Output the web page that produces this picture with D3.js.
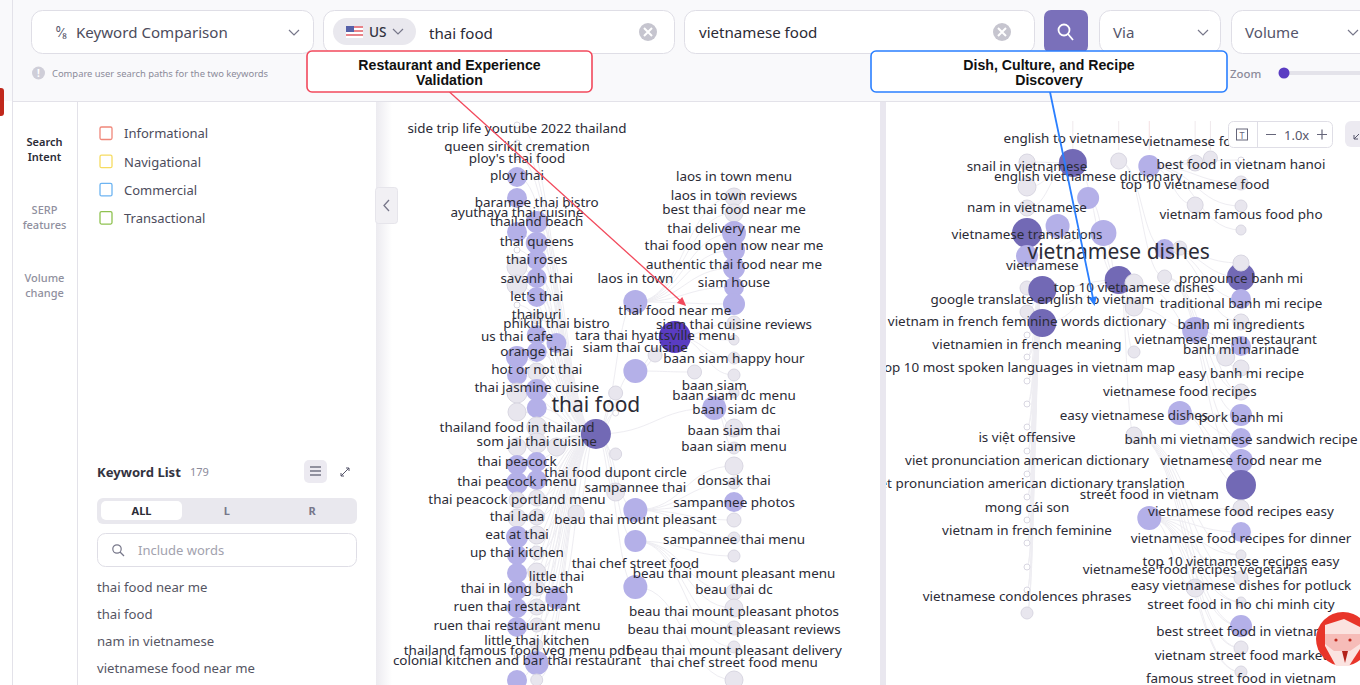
<!DOCTYPE html>
<head>
  <meta charset="utf-8">
  <script src="https://d3js.org/d3.v7.min.js"></script>
  <style>
    body { margin:0; overflow:hidden; background:#fff; }
    svg { display:block; font-family:"Noto Sans", sans-serif; }
    .link { fill:none; stroke:#eeedf2; stroke-width:1px; }
    .kw { fill:#2b2b36; font-size:13.45px; text-anchor:middle; dominant-baseline:central; }
    .big { font-size:21px; }
    .ui { fill:#4c4c5c; font-size:15.1px; dominant-baseline:central; }
    .box { fill:#fff; stroke:#dfdee6; }
    .note { fill:#111; font-family:"Liberation Sans", sans-serif; font-weight:bold; font-size:14.15px; text-anchor:middle; }
  </style>
</head>

<body>
  <svg id="page" width="1360" height="685"></svg>
  <script>

  // ---- left graph (thai food), one inner array per graph column
  var leftRows = [
    [125,143,157,177,198,232,250,267,285,305,320,357,375,393,412,447,465,483,500,518,537,555,573,590,608,627,655,680],
    [222,243,260,278,297,318,335,352,372,390,408,427,443,462,480,498,517,535,553,572,588,607,625,645,663,680],
    [343,447,598],
    [513],
    [434],
    [393,413,454,492],
    [302,371,510,541,587],
    [355],
    [337],
    [372],
    [408],
    [197,213,233,250,268,287,304,323,340,358,375,393,428,448,466,483,502,520,538,556,592,608,628,647,680]
  ];
  var leftVolumes = [
    [9,9,9,100,100,100,9,100,100,9,9,121,100,100,81,81,100,121,64,81,121,100,100,100,100,100,9,100],
    [121,121,100,100,100,36,100,100,81,121,100,100,100,100,100,64,64,81,49,81,64,64,49,36,144,36],
    [100,81,121],
    [64],
    [225],
    [49,9,36,81],
    [144,144,144,121,144],
    [49],
    [256],
    [49],
    [144],
    [81,81,144,121,121,100,121,49,25,36,36,25,81,36,81,36,100,49,36,36,64,81,49,36,81]
  ];
  var leftTiers = [
    [0,0,0,1,1,1,0,0,0,0,0,1,1,0,0,0,1,1,0,0,1,1,1,1,1,1,0,1],
    [1,1,1,1,1,0,1,1,0,1,1,0,0,1,1,0,0,0,0,0,0,0,0,0,1,0],
    [1,0,1],
    [0],
    [2],
    [0,0,0,0],
    [1,1,1,1,1],
    [0],
    [3],
    [0],
    [1],
    [0,0,1,1,1,1,1,0,0,0,0,0,0,0,0,0,1,0,0,0,0,0,0,0,0]
  ];
  var leftLabels = ["side trip life youtube 2022 thailand","queen sirikit cremation","ploy's thai food","ploy thai","baramee thai bistro","ayuthaya thai cuisine","thailand beach","thai queens","thai roses","savanh thai","let's thai","thaiburi","phikul thai bistro","us thai cafe","tara thai hyattsville menu","siam thai cuisine","orange thai","hot or not thai","thai jasmine cuisine","laos in town","thai food near me","siam thai cuisine reviews","baan siam happy hour","laos in town menu","laos in town reviews","best thai food near me","thai delivery near me","thai food open now near me","authentic thai food near me","siam house","baan siam","baan siam dc menu","baan siam dc","baan siam thai","baan siam menu","thailand food in thailand","som jai thai cuisine","thai peacock","thai food dupont circle","thai peacock menu","sampannee thai","donsak thai","sampannee photos","thai peacock portland menu","thai lada","beau thai mount pleasant","eat at thai","sampannee thai menu","up thai kitchen","thai chef street food","beau thai mount pleasant menu","little thai","thai in long beach","beau thai dc","ruen thai restaurant","beau thai mount pleasant photos","ruen thai restaurant menu","beau thai mount pleasant reviews","little thai kitchen","thailand famous food veg menu pdf","beau thai mount pleasant delivery","colonial kitchen and bar thai restaurant","thai chef street food menu"];
  var leftLabelColumns = [0,0,0,0,1,0,1,1,1,1,1,1,2,0,7,6,1,1,1,6,8,11,11,11,11,11,11,11,11,11,10,11,11,11,11,0,1,0,5,0,6,11,11,0,0,6,0,11,0,6,11,2,0,11,0,11,0,11,1,0,11,0,11];
  var leftLabelRows = [127.5,145.5,157.5,174.5,201.5,211.5,220.5,240.5,258.5,277.5,295.5,313.5,322.5,335.5,334.5,346.5,350.5,368.5,386.5,277.5,309.5,323.5,357.5,175.5,194.5,208.5,227.5,244.5,263.5,281.5,384.5,394.5,408.5,429.5,445.5,426.5,440.5,460.5,471.5,480.5,486.5,479.5,501.5,498.5,515.5,518.5,533.5,538.5,551.5,562.5,572.5,575.5,587.5,588.5,605.5,610.5,624.5,628.5,639.5,649.5,649.5,659.5,661.5];
  // hub column, hub row, target column, first row, last row
  var leftEdgeGroups = [
    [4,434,0,125,680],[4,434,1,222,680],[4,434,2,343,598],[4,434,3,513,513],[4,434,5,393,492],[4,434,6,302,587],[4,434,10,408,408],
    [6,302,11,197,304],[6,371,7,355,355],[6,371,8,337,337],[6,371,9,372,372],[8,337,11,323,375],[10,408,11,393,448],
    [6,510,11,466,538],[6,541,11,556,647],[6,587,11,680,680]
  ];

  // ---- right graph (vietnamese food)
  var rightRows = [
    [162,187,208,233,256,288,312,335,357,381,404,427,451,474,497,520,543,567,590,613],
    [290,323],
    [226],
    [163],
    [198],
    [233],
    [161,280],
    [283,307,352,435],
    [166,518],
    [249,277],
    [248,413],
    [163,205,330,588],
    [158],
    [357],
    [160,183,206,230,277,263,299,322,346,368,392,415,438,461,485,508,532,555,578,602,626,648,672]
  ];
  var rightVolumes = [
    [64,81,64,225,121,49,49,9,9,9,9,9,9,9,9,9,9,9,9,36],
    [196,196],
    [144],
    [196],
    [121],
    [169],
    [64,196],
    [81,81,36,64],
    [121,144],
    [100,49],
    [49,144],
    [64,64,169,81],
    [49],
    [81],
    [9,49,36,25,196,64,100,64,100,64,64,121,100,144,225,64,100,25,49,25,121,49,36]
  ];
  var rightTiers = [
    [0,0,0,2,1,0,0,0,0,0,0,0,0,0,0,0,0,0,0,0],
    [2,2],
    [1],
    [2],
    [1],
    [1],
    [0,2],
    [0,0,0,0],
    [1,1],
    [1,0],
    [0,1],
    [0,0,1,0],
    [0],
    [0],
    [0,0,0,0,2,0,1,0,1,0,0,1,1,1,2,0,1,0,0,0,1,0,0]
  ];
  var rightLabels = ["english to vietnamese","vietnamese food","snail in vietnamese","english vietnamese dictionary","best food in vietnam hanoi","top 10 vietnamese food","nam in vietnamese","vietnam famous food pho","vietnamese translations","vietnamese","pronounce banh mi","top 10 vietnamese dishes","google translate english to vietnam","traditional banh mi recipe","vietnam in french feminine words dictionary","banh mi ingredients","vietnamese menu restaurant","banh mi marinade","vietnamien in french meaning","top 10 most spoken languages in vietnam map","easy banh mi recipe","vietnamese food recipes","easy vietnamese dishes","pork banh mi","is việt offensive","banh mi vietnamese sandwich recipe","viet pronunciation american dictionary","vietnamese food near me","viet pronunciation american dictionary translation","street food in vietnam","mong cái son","vietnamese food recipes easy","vietnam in french feminine","vietnamese food recipes for dinner","top 10 vietnamese recipes easy","vietnamese food recipes vegetarian","easy vietnamese dishes for potluck","street food in ho chi minh city","vietnamese condolences phrases","best street food in vietnam","vietnam street food market","famous street food in vietnam"];
  var rightLabelColumns = [3,11,0,4,14,11,0,14,0,1,14,7,1,14,0,14,13,14,0,0,14,10,7,14,0,14,0,14,0,8,0,14,0,14,14,11,14,14,0,14,14,14];
  var rightLabelRows = [137.5,140.5,165.5,175.5,163.5,183.5,206.5,213.5,233.5,264.5,277.5,286.5,298.5,302.5,320.5,323.5,338.5,348.5,343.5,366.5,372.5,390.5,414.5,416.5,436.5,438.5,459.5,459.5,482.5,493.5,506.5,510.5,529.5,537.5,560.5,568.5,584.5,603.5,595.5,630.5,654.5,677.5];
  var rightEdgeGroups = [
    [3,163,0,162,208],[5,233,0,233,256],[6,280,1,290,323],[6,280,3,163,163],[6,280,4,198,198],[6,280,5,233,233],
    [1,323,0,335,613],[1,290,0,288,613],[6,280,7,283,435],[8,166,14,160,230],[8,166,12,158,158],[8,166,11,163,205],[9,249,14,263,322],
    [11,330,14,346,392],[10,413,14,415,485],[6,161,9,249,277],[7,283,13,357,357],[7,307,11,330,330],
    [8,518,14,508,672],[8,518,11,588,588],[7,435,14,555,672],[9,277,14,392,461]
  ];
  // links that run up past the top of the right panel
  var rightTopColumns = [3,6,8,11,12];

  var tierColors = ["#e8e6ee", "#b4b0e8", "#7269b5", "#5a3cc2"];
  var legendNames = ["Informational", "Navigational", "Commercial", "Transactional"];
  var legendColors = ["#f0877a", "#f6dc62", "#6db4f2", "#8fc250"];
  var sideNames = [["Search","Intent"], ["SERP","features"], ["Volume","change"]];
  var listWords = ["thai food near me", "thai food", "nam in vietnamese", "vietnamese food near me"];
  var tabNames = ["ALL", "L", "R"];

  var svg = d3.select("#page");
  var defs = svg.append("defs");

  var yScale = d3.scaleLinear().domain([100, 685]).range([100, 685]);
  var rScale = d3.scaleSqrt().domain([0, 256]).range([0, 16]);
  var leftX = d3.scaleLinear().domain([0, 11]).range([517, 734]);
  var rightX = d3.scaleLinear().domain([0, 14]).range([1027, 1241]);

  // page chrome
  svg.append("rect").attr("width", 1360).attr("height", 101).attr("fill", "#f9f9fb");
  svg.append("line").attr("x1", 13).attr("x2", 1360).attr("y1", 101.5).attr("y2", 101.5).attr("stroke", "#e3e2e9");
  svg.append("line").attr("x1", 12.5).attr("x2", 12.5).attr("y1", 0).attr("y2", 685).attr("stroke", "#e3e2e9");
  svg.append("line").attr("x1", 77.5).attr("x2", 77.5).attr("y1", 102).attr("y2", 685).attr("stroke", "#e3e2e9");
  svg.append("rect").attr("x", -6).attr("y", 88).attr("width", 10).attr("height", 28).attr("rx", 3).attr("fill", "#c0281c");

  function box(x, y, w, h, r) {
    return svg.append("rect").attr("class", "box").attr("x", x + 0.5).attr("y", y + 0.5)
      .attr("width", w).attr("height", h).attr("rx", r);
  }
  function chevron(x, y) {
    svg.append("path").attr("d", "M" + (x - 5) + "," + (y - 2) + "l5,5l5,-5").attr("fill", "none").attr("stroke", "#77778a").attr("stroke-width", 1.2);
  }
  function clearIcon(x, y) {
    svg.append("circle").attr("cx", x).attr("cy", y).attr("r", 9).attr("fill", "#c6c5cf");
    svg.append("path").attr("d", "M" + (x - 4) + "," + (y - 4) + "l8,8m0,-8l-8,8").attr("stroke", "#fff").attr("stroke-width", 2);
  }
  function uiText(x, y, t, size, color) {
    return svg.append("text").attr("class", "ui").attr("x", x).attr("y", y).text(t)
      .style("font-size", size + "px").style("fill", color || "#4c4c5c");
  }

  box(31, 10, 282, 43, 11);
  uiText(56, 31.5, "⁰⁄₈", 13, "#55556a");
  uiText(76, 31.5, "Keyword Comparison");
  chevron(294, 32);

  box(323, 10, 351, 43, 11);
  svg.append("rect").attr("x", 333).attr("y", 18).attr("width", 83).attr("height", 27).attr("rx", 13.5).attr("fill", "#e9e8ee");
  // little flag
  svg.append("rect").attr("x", 346).attr("y", 26).attr("width", 17).attr("height", 12).attr("fill", "#e8838a");
  d3.range(1, 6, 2).forEach(function(i) {
    svg.append("rect").attr("x", 346).attr("y", 26 + i * 2).attr("width", 17).attr("height", 2).attr("fill", "#fff");
  });
  svg.append("rect").attr("x", 346).attr("y", 26).attr("width", 8).attr("height", 6).attr("fill", "#5560a8");
  uiText(369, 31.5, "US", 13.6, "#33333f").style("font-weight", 500);
  chevron(398, 31);
  uiText(429, 32.5, "thai food", 15.1, "#2b2b36");
  clearIcon(648, 32);

  box(684, 10, 350, 43, 11);
  uiText(699, 31.5, "vietnamese food", 15.1, "#2b2b36");
  clearIcon(1002, 32);

  svg.append("rect").attr("x", 1044).attr("y", 10).attr("width", 44).attr("height", 43).attr("rx", 7).attr("fill", "#7a70ba");
  svg.append("circle").attr("cx", 1064).attr("cy", 30).attr("r", 5.5).attr("fill", "none").attr("stroke", "#fff").attr("stroke-width", 1.8);
  svg.append("path").attr("d", "M1068,34l5,6").attr("stroke", "#fff").attr("stroke-width", 1.8);

  box(1099, 10, 121, 43, 11);
  uiText(1113, 31.5, "Via", 15.1, "#55556a");
  chevron(1203, 32);
  box(1231, 10, 160, 43, 11);
  uiText(1245, 31.5, "Volume", 15.1, "#55556a");
  chevron(1353, 32);

  svg.append("circle").attr("cx", 38.5).attr("cy", 73).attr("r", 6.5).attr("fill", "#cfced8");
  svg.append("text").attr("x", 38.5).attr("y", 76.5).attr("text-anchor", "middle").attr("fill", "#fff").style("font-size", "10px").style("font-weight", 700).text("!");
  uiText(52, 73, "Compare user search paths for the two keywords", 9.4, "#8b8b9a");

  uiText(1230, 73, "Zoom", 11.4, "#8b8b9a").style("font-weight", 500);
  svg.append("rect").attr("x", 1284).attr("y", 71).attr("width", 80).attr("height", 4).attr("rx", 2).attr("fill", "#e4e3ea");
  svg.append("circle").attr("cx", 1284).attr("cy", 73).attr("r", 5.5).attr("fill", "#5a3cc2");

  // side nav
  sideNames.forEach(function(pair, i) {
    pair.forEach(function(t, j) {
      svg.append("text").attr("x", 44.5).attr("y", 141.8 + i * 68 + j * 14.5).attr("text-anchor", "middle")
        .attr("dominant-baseline", "central").style("font-size", "11px").style("font-weight", i === 0 ? 600 : 500)
        .attr("fill", i === 0 ? "#2b2b36" : "#8f8f9e").text(t);
    });
  });

  // legend
  legendNames.forEach(function(name, i) {
    svg.append("rect").attr("x", 100).attr("y", 127 + i * 28.2).attr("width", 12).attr("height", 12.5).attr("rx", 1.5)
      .attr("fill", "#fff").attr("stroke", legendColors[i]).attr("stroke-width", 1.3);
    uiText(124, 133.4 + i * 28.2, name, 13, "#4c4c5c");
  });

  // keyword list
  svg.append("text").attr("x", 97).attr("y", 471.5).attr("dominant-baseline", "central").style("font-size", "13.1px").style("font-weight", 700).attr("fill", "#33333f").text("Keyword List");
  uiText(190, 471, "179", 11, "#8b8b9a");
  svg.append("rect").attr("x", 304).attr("y", 460).attr("width", 23).attr("height", 23).attr("rx", 5).attr("fill", "#eceaf1");
  d3.range(3).forEach(function(i) {
    svg.append("path").attr("d", "M310," + (467 + i * 4) + "h11").attr("stroke", "#55556a").attr("stroke-width", 1.2);
  });
  svg.append("path").attr("d", "M341,476l8,-8m-3,0h3v3m-8,2v3h3").attr("fill", "none").attr("stroke", "#55556a");
  svg.append("rect").attr("x", 97).attr("y", 498).attr("width", 260).attr("height", 26).attr("rx", 6).attr("fill", "#e9e8ee");
  svg.append("rect").attr("x", 101).attr("y", 501).attr("width", 81).attr("height", 19).attr("rx", 5).attr("fill", "#fff");
  tabNames.forEach(function(t, i) {
    svg.append("text").attr("x", 141.5 + i * 85.3).attr("y", 510.5).attr("text-anchor", "middle").attr("dominant-baseline", "central")
      .style("font-size", "11px").style("font-weight", 700).attr("fill", i === 0 ? "#2b2b36" : "#77778a").text(t);
  });
  box(97, 533, 259, 33, 8);
  svg.append("circle").attr("cx", 117).attr("cy", 549).attr("r", 4.2).attr("fill", "none").attr("stroke", "#77778a").attr("stroke-width", 1.2);
  svg.append("path").attr("d", "M120,552l4,4").attr("stroke", "#77778a").attr("stroke-width", 1.2);
  uiText(138, 550, "Include words", 13, "#a2a2ae");
  listWords.forEach(function(t, i) {
    uiText(97, 586.5 + i * 27.3, t, 13.15, "#555563");
  });

  // graph panels
  var shadow = defs.append("linearGradient").attr("id", "panelShadow");
  shadow.append("stop").attr("offset", 0).attr("stop-color", "#ecebf0");
  shadow.append("stop").attr("offset", 1).attr("stop-color", "#fff");
  svg.append("rect").attr("x", 376).attr("y", 102).attr("width", 16).attr("height", 583).attr("fill", "url(#panelShadow)");
  svg.append("rect").attr("x", 880).attr("y", 102).attr("width", 6).attr("height", 583).attr("fill", "#e9e7ef");

  defs.append("clipPath").attr("id", "clipLeft").append("rect").attr("x", 376).attr("y", 102).attr("width", 504).attr("height", 583);
  defs.append("clipPath").attr("id", "clipRight").append("rect").attr("x", 886).attr("y", 102).attr("width", 474).attr("height", 583);

  var linkPath = d3.linkHorizontal();

  function drawGraph(clipId, xScale, rows, volumes, tiers, edgeGroups, labels, labelColumns, labelRows) {
    var g = svg.append("g").attr("clip-path", "url(#" + clipId + ")");
    var nodes = [];
    rows.forEach(function(colRows, c) {
      colRows.forEach(function(row, i) {
        nodes.push({col: c, row: row, volume: volumes[c][i], tier: tiers[c][i]});
      });
    });
    var links = [];
    edgeGroups.forEach(function(e) {
      nodes.forEach(function(n) {
        if (n.col === e[2] && n.row >= e[3] && n.row <= e[4]) {
          links.push({source: [xScale(e[0]), yScale(e[1])], target: [xScale(n.col), yScale(n.row)]});
        }
      });
    });
    g.selectAll("path.link").data(links).enter().append("path").attr("class", "link")
      .attr("d", function(d) { return linkPath(d); });
    g.selectAll("circle").data(nodes).enter().append("circle")
      .attr("cx", function(d) { return xScale(d.col); })
      .attr("cy", function(d) { return yScale(d.row); })
      .attr("r", function(d) { return rScale(d.volume); })
      .attr("fill", function(d) { return d.volume < 16 ? "#fff" : tierColors[d.tier]; })
      .attr("stroke", function(d) { return d.tier === 0 ? "#d9d7e2" : "none"; });
    g.selectAll("text").data(labels).enter().append("text")
      .attr("class", "kw")
      .attr("x", function(d, i) { return xScale(labelColumns[i]); })
      .attr("y", function(d, i) { return yScale(labelRows[i]); })
      .text(function(d) { return d; });
    return g;
  }

  var leftGraph = drawGraph("clipLeft", leftX, leftRows, leftVolumes, leftTiers, leftEdgeGroups, leftLabels, leftLabelColumns, leftLabelRows);
  var rightGraph = drawGraph("clipRight", rightX, rightRows, rightVolumes, rightTiers, rightEdgeGroups, rightLabels, rightLabelColumns, rightLabelRows);

  leftGraph.append("text").attr("class", "kw big").attr("x", leftX(4)).attr("y", yScale(404)).text("thai food");
  rightGraph.append("text").attr("class", "kw big").attr("x", rightX(6)).attr("y", yScale(251)).text("vietnamese dishes");
  rightTopColumns.forEach(function(c) {
    rightGraph.insert("line", "circle").attr("class", "link").attr("x1", rightX(c)).attr("x2", rightX(c))
      .attr("y1", yScale(121)).attr("y2", yScale(150)).style("stroke", c === 8 ? "#f4dfe2" : "#efe9ec");
  });

  // collapse handle
  svg.append("rect").attr("x", 375.5).attr("y", 187.5).attr("width", 22).attr("height", 36).attr("rx", 3).attr("fill", "#f1f0f4").attr("stroke", "#e6e5eb");
  svg.append("path").attr("d", "M389,200l-5,5.5l5,5.5").attr("fill", "none").attr("stroke", "#77778a").attr("stroke-width", 1.3);

  // zoom control over the right panel
  box(1228, 121, 104, 26, 5);
  svg.append("line").attr("x1", 1257.5).attr("x2", 1257.5).attr("y1", 121).attr("y2", 147).attr("stroke", "#dfdee6");
  svg.append("rect").attr("x", 1236.5).attr("y", 129).attr("width", 11).attr("height", 11).attr("fill", "none").attr("stroke", "#66667a");
  svg.append("text").attr("x", 1242).attr("y", 138.5).attr("text-anchor", "middle").style("font-size", "9px").attr("fill", "#66667a").text("T");
  svg.append("path").attr("d", "M1266,134.5h10m41,0h10m-5,-5v10").attr("stroke", "#66667a").attr("stroke-width", 1.2);
  uiText(1284, 134.5, "1.0x", 13, "#55556a");
  svg.append("rect").attr("x", 1345).attr("y", 121).attr("width", 30).attr("height", 26).attr("rx", 6).attr("fill", "#eceaf1");
  svg.append("path").attr("d", "M1354,139l5,-5m-5,1v4h4").attr("fill", "none").attr("stroke", "#55556a");

  // mascot in the corner
  svg.append("circle").attr("cx", 1343).attr("cy", 639).attr("r", 27).attr("fill", "#e8352a");
  svg.append("path").attr("d", "M1325,625l19,-6l16,8v22l-11,17h-13l-11,-20z").attr("fill", "#fbe3e0");
  svg.append("path").attr("d", "M1325,634h35v10l-10,7h-16l-9,-7z").attr("fill", "#f6bcb8");
  svg.append("circle").attr("cx", 1336).attr("cy", 640).attr("r", 1.6).attr("fill", "#c0281c");
  svg.append("circle").attr("cx", 1350).attr("cy", 640).attr("r", 1.6).attr("fill", "#c0281c");
  svg.append("path").attr("d", "M1342,651h6l-3,12z").attr("fill", "#b3221a");

  // annotations
  function annotation(x, y, w, h, color, lines, fromX, tipX, tipY, lineWidth) {
    var fromY = y + h;
    var angle = Math.atan2(tipY - fromY, tipX - fromX);
    svg.append("line").attr("x1", fromX).attr("y1", fromY).attr("x2", tipX).attr("y2", tipY).attr("stroke", color).attr("stroke-width", lineWidth);
    var head = d3.path();
    head.moveTo(tipX + 3 * Math.cos(angle), tipY + 3 * Math.sin(angle));
    head.lineTo(tipX - 6 * Math.cos(angle) - 4 * Math.sin(angle), tipY - 6 * Math.sin(angle) + 4 * Math.cos(angle));
    head.lineTo(tipX - 6 * Math.cos(angle) + 4 * Math.sin(angle), tipY - 6 * Math.sin(angle) - 4 * Math.cos(angle));
    head.closePath();
    svg.append("path").attr("d", head.toString()).attr("fill", color);
    svg.append("rect").attr("x", x).attr("y", y).attr("width", w).attr("height", h).attr("rx", 5)
      .attr("fill", "#fff").attr("stroke", color).attr("stroke-width", 1.6);
    lines.forEach(function(t, i) {
      svg.append("text").attr("class", "note").attr("x", x + w / 2).attr("y", y + 19 + i * 15).text(t);
    });
  }
  annotation(307, 51, 285, 41, "#f2495c", ["Restaurant and Experience", "Validation"], 449.5, 684, 304, 1.3);
  annotation(871, 51, 356, 41, "#2a7fff", ["Dish, Culture, and Recipe", "Discovery"], 1050, 1094, 303, 1.8);

  </script>
</body>
